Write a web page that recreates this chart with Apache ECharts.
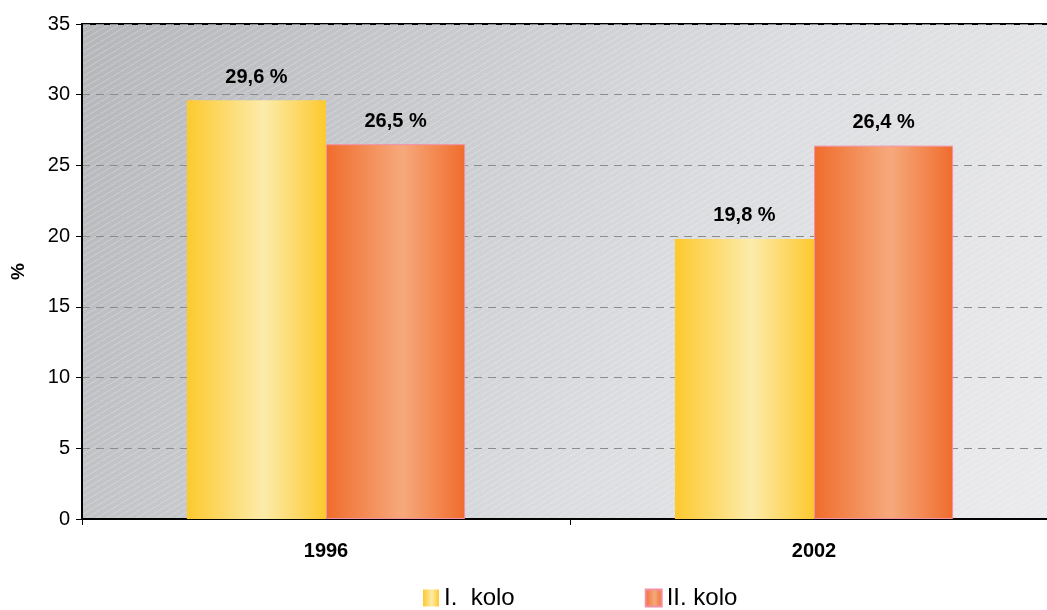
<!DOCTYPE html>
<html>
<head>
<meta charset="utf-8">
<script src="https://cdn.jsdelivr.net/npm/echarts@6/dist/echarts.min.js"></script>
<style>
  html, body { margin: 0; padding: 0; background: #fff; }
  #chart { width: 1047px; height: 610px; }
</style>
</head>
<body>
<div id="chart"></div>
<script>
const categories = ['1996', '2002']
const kolo1 = [29.6, 19.8]
const kolo2 = [26.5, 26.4]
const seriesNames = ['I.  kolo', 'II. kolo']
const yTicks = { min: 0, max: 35, interval: 5 }

// grid box (the plot runs a little past the right edge of the picture)
const gridLeft = 82, gridTop = 24, gridWidth = 976, gridHeight = 495

function hatch() {
  let c = document.createElement('canvas')
  c.width = 10; c.height = 6
  let ctx = c.getContext('2d')
  ctx.strokeStyle = 'rgba(255,255,255,0.35)'
  ctx.lineWidth = 0.8
  for (let k = -2; k <= 2; k++) {
    ctx.beginPath()
    ctx.moveTo(k * 10, 6)
    ctx.lineTo(k * 10 + 10, 0)
    ctx.stroke()
  }
  return c
}

function barGrad(edge, mid) {
  return {
    type: 'linear', x: 0, y: 0, x2: 1, y2: 0,
    colorStops: [
      { offset: 0, color: edge },
      { offset: 0.55, color: mid },
      { offset: 1, color: edge }
    ]
  }
}

const yellow = barGrad('#fdc92e', '#fcebaa')
const orange = barGrad('#f06c2c', '#f6a97c')

const label = {
  show: true,
  position: 'top',
  distance: 13,
  fontFamily: 'Liberation Sans, Arial',
  fontWeight: 'bold',
  fontSize: 20,
  color: '#000',
  formatter: p => p.value.toFixed(1).replace('.', ',') + ' %'
}

let myChart = echarts.init(document.getElementById('chart'))
myChart.setOption({
  animation: false,
  backgroundColor: '#fff',
  textStyle: { fontFamily: 'Liberation Sans, Arial' },
  grid: {
    left: gridLeft,
    top: gridTop,
    width: gridWidth,
    height: gridHeight,
    outerBoundsMode: 'none',
    containLabel: false,
    show: true,
    borderColor: '#000',
    borderWidth: 2,
    backgroundColor: {
      type: 'linear', x: 0, y: 0, x2: 1, y2: 1,
      colorStops: [
        { offset: 0, color: '#b4b6b9' },
        { offset: 0.6, color: '#dcdde0' },
        { offset: 1, color: '#ebebed' }
      ]
    }
  },
  graphic: [{
    type: 'rect',
    z: 0,
    silent: true,
    shape: { x: gridLeft + 1, y: gridTop + 1, width: gridWidth - 2, height: gridHeight - 2 },
    style: { fill: { image: hatch(), repeat: 'repeat' } }
  }],
  legend: {
    top: 581,
    left: 418,
    itemWidth: 16,
    itemHeight: 17,
    itemGap: 130,
    icon: 'rect',
    textStyle: { fontSize: 24, color: '#000', fontFamily: 'Liberation Sans, Arial' },
    data: seriesNames
  },
  xAxis: {
    type: 'category',
    data: categories,
    axisLine: { lineStyle: { color: '#000', width: 2 } },
    axisTick: { show: true, length: 6, lineStyle: { color: '#000' } },
    axisLabel: { fontSize: 20, fontWeight: 'bold', color: '#000', margin: 22 }
  },
  yAxis: {
    type: 'value',
    min: yTicks.min,
    max: yTicks.max,
    interval: yTicks.interval,
    name: '%',
    nameLocation: 'middle',
    nameGap: 54,
    nameRotate: 90,
    nameTextStyle: { fontSize: 19, fontWeight: 'bold', color: '#000' },
    axisLine: { show: true, lineStyle: { color: '#000', width: 2 } },
    axisTick: { show: true, length: 6, lineStyle: { color: '#000' } },
    axisLabel: { fontSize: 20, color: '#000', margin: 12 },
    splitLine: { lineStyle: { color: '#8c8c8c', type: [8, 6], width: 1 } }
  },
  series: [{
    name: seriesNames[0],
    type: 'bar',
    data: kolo1,
    barGap: 0,
    barCategoryGap: '43%',
    itemStyle: { color: yellow },
    label
  }, {
    name: seriesNames[1],
    type: 'bar',
    data: kolo2,
    itemStyle: { color: orange, borderColor: '#f48fa8', borderWidth: 1 },
    label
  }]
})
</script>
</body>
</html>
